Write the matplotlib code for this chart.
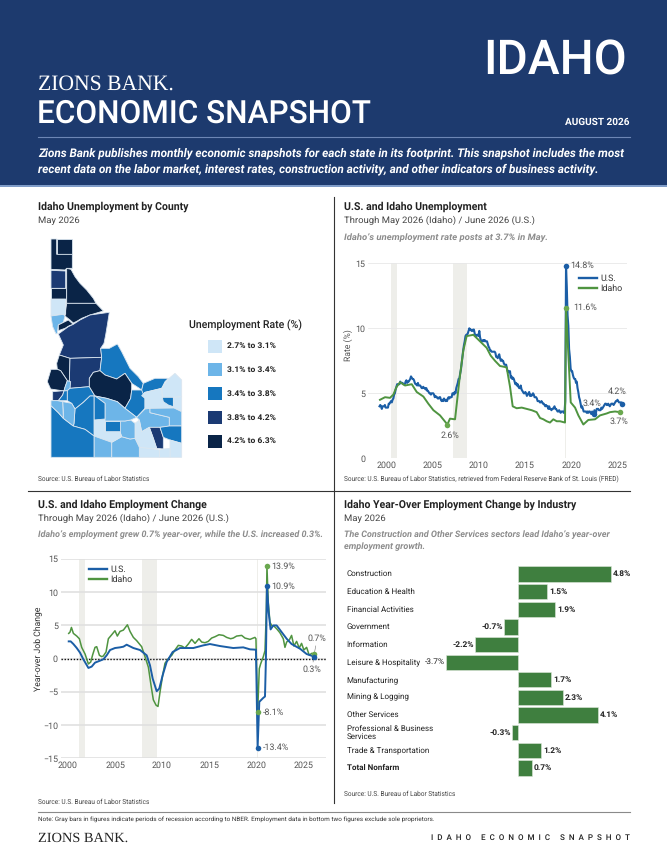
import matplotlib
matplotlib.use("Agg")
import matplotlib.pyplot as plt
from matplotlib.patches import Polygon, Rectangle
from matplotlib.lines import Line2D

W, H = 667, 852
FONT = "Roboto"
plt.rcParams["font.family"] = [FONT, "DejaVu Sans"]
plt.rcParams["text.hinting"] = "no_hinting"

NAVY = "#1d3a6e"
US_BLUE = "#1b5ea6"
ID_GREEN = "#4f9440"
ID_DOT = "#6aa84f"
BAR_GREEN = "#3f7f3f"
GREY = "#555555"

# ─── DATA ────────────────────────────────────────────────────────────────────

map_levels = ["#cfe6f7", "#6db5e8", "#1677bf", "#1b3a73", "#0a2447"]
map_labels = ["2.7% to 3.1%", "3.1% to 3.4%", "3.4% to 3.8%", "3.8% to 4.2%", "4.2% to 6.3%"]

# county outlines: (colour level, vertices)
counties = [
    (4, [(80,12),(127,12),(127,58),(80,58),(80,25)]),
    (4, [(63,12),(80,12),(80,58),(127,58),(127,100),(110,100),(105,105),(63,103)]),
    (3, [(63,106),(107,108),(107,160),(63,160)]),
    (4, [(63,160),(107,160),(107,192),(63,192)]),
    (4, [(110,100),(123,103),(135,125),(150,145),(170,165),(190,190),(198,205),(110,205)]),
    (4, [(110,205),(198,205),(220,228),(180,240),(155,250),(142,258),(130,264),(120,255),(105,243),(107,225)]),
    (0, [(63,192),(107,192),(107,238),(78,240),(63,243)]),
    (1, [(63,243),(100,238),(105,243),(100,262),(85,270),(82,295),(78,297),(68,275)]),
    (4, [(85,270),(115,255),(130,268),(118,272),(105,280),(85,287)]),
    (3, [(85,297),(115,275),(130,268),(150,255),(180,240),(238,232),(232,270),(227,300),(222,325),
         (212,340),(215,367),(120,370),(88,360),(100,330)]),
    (4, [(88,360),(120,370),(118,440),(112,437),(92,407),(82,403),(80,385)]),
    (4, [(63,403),(82,403),(92,407),(112,437),(104,460),(102,468),(62,462),(52,440)]),
    (3, [(120,370),(215,367),(210,407),(190,412),(178,430),(178,455),(120,460),(118,440)]),
    (3, [(68,470),(102,467),(98,480),(85,497),(68,497)]),
    (1, [(112,437),(122,440),(120,460),(112,467),(102,468),(104,460)]),
    (2, [(82,497),(85,497),(98,480),(102,468),(112,467),(112,497)]),
    (2, [(112,467),(120,460),(178,455),(195,483),(180,483),(160,502),(135,522),(125,505),(112,497)]),
    (2, [(212,340),(238,340),(262,327),(275,350),(300,400),(325,425),(340,445),(335,465),(328,460),
         (305,445),(285,415),(260,432),(225,420),(210,407),(215,367)]),
    (4, [(178,430),(190,412),(210,407),(225,420),(260,432),(285,415),(305,445),(305,465),(302,490),
         (285,520),(262,500),(230,490),(195,483),(178,455)]),
    (2, [(340,445),(375,430),(415,430),(405,440),(395,460),(345,472),(335,482),(335,465)]),
    (2, [(305,465),(335,465),(345,490),(345,520),(320,547),(285,520),(302,490)]),
    (0, [(395,460),(415,432),(435,415),(455,435),(455,485),(425,487),(397,487)]),
    (0, [(345,472),(395,460),(397,487),(397,492),(415,510),(432,517),(432,519),(345,522),(345,490),(335,482)]),
    (2, [(397,487),(430,487),(430,515),(415,510),(400,500)]),
    (0, [(430,487),(455,485),(455,530),(432,519)]),
    (1, [(345,522),(360,520),(360,533),(418,547),(418,573),(390,577),(358,577),(335,590),(328,555),(320,547)]),
    (1, [(360,520),(432,519),(455,530),(455,573),(418,573),(418,547),(360,533)]),
    (3, [(358,577),(390,577),(400,607),(400,642),(380,640),(370,610)]),
    (2, [(390,577),(418,573),(455,573),(455,625),(420,615),(400,607)]),
    (0, [(420,615),(455,625),(455,667),(420,667)]),
    (0, [(388,645),(400,642),(420,640),(420,667),(388,667)]),
    (0, [(328,637),(360,640),(388,645),(388,667),(328,667)]),
    (0, [(315,565),(328,555),(335,590),(358,577),(370,610),(380,640),(360,640),(328,637),(315,610)]),
    (1, [(245,622),(275,605),(300,612),(315,610),(328,637),(328,667),(245,667)]),
    (1, [(270,558),(285,558),(302,555),(315,565),(315,610),(300,612),(275,605),(270,590)]),
    (2, [(225,558),(270,558),(270,590),(225,590)]),
    (0, [(192,555),(225,552),(225,590),(270,590),(275,605),(245,622),(192,603)]),
    (1, [(192,603),(245,622),(245,667),(192,667)]),
    (1, [(195,483),(230,490),(262,500),(285,520),(320,547),(302,555),(285,558),(225,558),(225,505)]),
    (2, [(192,483),(195,483),(225,505),(225,552),(192,555)]),
    (2, [(135,522),(160,502),(180,483),(192,483),(192,603),(165,583),(130,573),(132,565)]),
    (2, [(63,512),(85,533),(100,550),(130,573),(165,583),(192,603),(192,667),(63,667)]),
    (1, [(98,500),(125,505),(135,522),(132,565),(130,573),(100,550),(100,535)]),
    (1, [(63,497),(82,497),(98,500),(100,550),(85,533),(63,512)]),
]

us_rate_start = 2000.0
us_rate = [
    4.0, 4.1, 4.0, 3.8, 4.0, 4.0, 4.0, 4.1, 3.9, 3.9, 3.9, 3.9,
    4.2, 4.2, 4.3, 4.4, 4.3, 4.5, 4.6, 4.9, 5.0, 5.3, 5.5, 5.7,
    5.7, 5.7, 5.7, 5.9, 5.8, 5.8, 5.8, 5.7, 5.7, 5.7, 5.9, 6.0,
    5.8, 5.9, 5.9, 6.0, 6.1, 6.3, 6.2, 6.1, 6.1, 6.0, 5.8, 5.7,
    5.7, 5.6, 5.8, 5.6, 5.6, 5.6, 5.5, 5.4, 5.4, 5.5, 5.4, 5.4,
    5.3, 5.4, 5.2, 5.2, 5.1, 5.0, 5.0, 4.9, 5.0, 5.0, 5.0, 4.9,
    4.7, 4.8, 4.7, 4.7, 4.6, 4.6, 4.7, 4.7, 4.5, 4.4, 4.5, 4.4,
    4.6, 4.5, 4.4, 4.5, 4.4, 4.6, 4.7, 4.6, 4.7, 4.7, 4.7, 5.0,
    5.0, 4.9, 5.1, 5.0, 5.4, 5.6, 5.8, 6.1, 6.1, 6.5, 6.8, 7.3,
    7.8, 8.3, 8.7, 9.0, 9.4, 9.5, 9.5, 9.6, 9.8, 10.0, 9.9, 9.9,
    9.8, 9.8, 9.9, 9.9, 9.6, 9.4, 9.4, 9.5, 9.5, 9.4, 9.8, 9.3,
    9.1, 9.0, 9.0, 9.1, 9.0, 9.1, 9.0, 9.0, 9.0, 8.8, 8.6, 8.5,
    8.3, 8.3, 8.2, 8.2, 8.2, 8.2, 8.2, 8.1, 7.8, 7.8, 7.7, 7.9,
    8.0, 7.7, 7.5, 7.6, 7.5, 7.5, 7.3, 7.2, 7.2, 7.2, 6.9, 6.7,
    6.6, 6.7, 6.7, 6.2, 6.3, 6.1, 6.2, 6.1, 5.9, 5.7, 5.8, 5.6,
    5.7, 5.5, 5.4, 5.4, 5.6, 5.3, 5.2, 5.1, 5.0, 5.0, 5.1, 5.0,
    4.8, 4.9, 5.0, 5.1, 4.8, 4.9, 4.8, 4.9, 5.0, 4.9, 4.7, 4.7,
    4.7, 4.6, 4.4, 4.4, 4.4, 4.3, 4.3, 4.4, 4.3, 4.2, 4.2, 4.1,
    4.0, 4.1, 4.0, 4.0, 3.8, 4.0, 3.8, 3.8, 3.7, 3.8, 3.8, 3.9,
    4.0, 3.8, 3.8, 3.7, 3.6, 3.6, 3.7, 3.6, 3.5, 3.6, 3.6, 3.6,
    3.5, 3.5, 4.4, 14.8, 13.2, 11.0, 10.2, 8.4, 7.8, 6.9, 6.7, 6.7,
    6.4, 6.2, 6.1, 6.1, 5.8, 5.9, 5.4, 5.1, 4.7, 4.5, 4.2, 3.9,
    4.0, 3.8, 3.6, 3.6, 3.6, 3.6, 3.5, 3.6, 3.5, 3.6, 3.6, 3.5,
    3.4, 3.6, 3.5, 3.4, 3.7, 3.6, 3.5, 3.8, 3.8, 3.8, 3.7, 3.7,
    3.7, 3.9, 3.8, 3.9, 4.0, 4.1, 4.2, 4.2, 4.1, 4.1, 4.2, 4.1,
    4.0, 4.1, 4.2, 4.2, 4.2, 4.1, 4.2, 4.3, 4.4, 4.4, 4.5, 4.4,
    4.3, 4.3, 4.3, 4.3, 4.2, 4.2,
]
us_rate_years = [us_rate_start + i / 12 for i in range(len(us_rate))]

id_rate_years = [2000.05, 2000.6, 2001.14, 2001.5, 2001.86, 2002.23, 2002.77, 2003.5, 2004.04, 2004.76,
                 2005.3, 2005.85, 2006.57, 2007.37, 2007.65, 2008.2, 2008.67, 2009.1, 2009.46, 2010.19,
                 2010.91, 2011.63, 2012.07, 2012.54, 2013.08, 2013.8, 2014.17, 2014.46, 2014.89, 2015.44,
                 2015.98, 2016.52, 2017.06, 2017.43, 2017.79, 2018.15, 2018.51, 2018.87, 2019.24, 2019.6,
                 2020.14, 2020.25, 2020.5, 2020.76, 2021.23, 2021.59, 2022.13, 2022.67, 2023.4, 2023.94,
                 2024.67, 2025.03, 2025.57, 2026.11]
id_rate = [4.5, 4.7, 4.65, 4.9, 5.5, 5.85, 5.6, 5.7, 5.1, 4.75,
           4.2, 3.7, 3.3, 2.6, 3.05, 3.0, 6.0, 8.3, 9.4, 9.5,
           9.0, 8.5, 7.9, 7.5, 7.1, 7.0, 5.5, 4.0, 3.85, 3.9,
           3.8, 3.7, 3.55, 3.1, 3.0, 2.85, 2.75, 3.0, 2.85, 2.85,
           2.75, 11.6, 8.0, 4.3, 3.9, 3.3, 2.6, 2.95, 3.0, 3.3,
           3.45, 3.55, 3.6, 3.55]

us_job_years = [2000.0, 2000.21, 2000.5, 2000.86, 2001.21, 2001.57, 2002.11, 2002.46, 2002.82, 2003.36,
                2003.71, 2004.07, 2004.43, 2004.96, 2005.5, 2005.86, 2006.21, 2006.93, 2007.64, 2008.36,
                2008.71, 2009.0, 2009.43, 2009.71, 2010.07, 2010.5, 2011.14, 2011.93, 2013.36, 2014.43,
                2015.14, 2016.21, 2017.64, 2018.71, 2019.43, 2020.07, 2020.25, 2020.43, 2020.86, 2021.04,
                2021.14, 2021.25, 2021.43, 2021.64, 2021.93, 2022.29, 2022.82, 2023.36, 2023.89, 2024.79,
                2025.5, 2026.32]
us_job = [2.6, 2.6, 2.2, 1.6, 0.9, -0.1, -1.4, -1.2, -0.6, -0.3,
          -0.1, 0.5, 1.3, 1.6, 1.7, 1.8, 2.1, 1.6, 1.3, 0.5,
          -1.0, -3.0, -4.9, -4.5, -2.5, -0.5, 1.0, 1.6, 1.6, 2.0,
          2.2, 1.9, 1.6, 1.7, 1.4, 1.35, -13.4, -6.5, -5.9, -5.7,
          0.0, 10.9, 7.0, 4.4, 5.0, 5.0, 4.0, 3.0, 2.2, 1.5,
          0.7, 0.3]

id_job_years = [2000.0, 2000.14, 2000.29, 2000.5, 2000.86, 2001.14, 2001.39, 2001.75, 2002.11, 2002.36,
                2002.57, 2002.82, 2003.0, 2003.29, 2003.54, 2003.71, 2004.0, 2004.25, 2004.61, 2004.96,
                2005.21, 2005.5, 2005.86, 2006.29, 2006.57, 2006.93, 2007.29, 2007.82, 2008.18, 2008.54,
                2008.82, 2009.07, 2009.36, 2009.57, 2009.79, 2010.07, 2010.32, 2010.68, 2011.04, 2011.39,
                2011.75, 2012.11, 2012.46, 2012.82, 2013.18, 2013.54, 2013.96, 2014.25, 2014.61, 2014.96,
                2015.32, 2015.68, 2016.11, 2016.57, 2016.93, 2017.36, 2017.64, 2018.0, 2018.54, 2018.89,
                2019.43, 2019.96, 2020.07, 2020.25, 2020.43, 2020.57, 2020.86, 2021.04, 2021.18, 2021.25,
                2021.39, 2021.57, 2021.75, 2022.0, 2022.29, 2022.64, 2023.0, 2023.18, 2023.36, 2023.64,
                2023.89, 2024.14, 2024.43, 2024.71, 2024.96, 2025.21, 2025.5, 2025.79, 2026.04, 2026.32]
id_job = [3.8, 4.0, 4.7, 3.8, 3.4, 3.0, 1.7, 0.7, -0.8, -0.5,
          0.6, 1.7, 1.8, 0.5, 0.3, 0.4, 1.0, 3.0, 3.6, 4.2,
          3.4, 4.1, 4.3, 5.1, 4.1, 3.2, 2.7, 1.8, 0.3, -1.3,
          -4.0, -6.2, -7.0, -7.2, -5.0, -2.5, -0.7, 0.0, 0.5, 1.3,
          2.0, 1.9, 1.6, 2.2, 2.9, 2.3, 3.0, 2.5, 2.4, 2.6,
          3.1, 3.3, 3.6, 3.5, 3.2, 3.0, 3.1, 3.4, 3.5, 3.1,
          2.9, 3.2, 3.0, -8.1, -1.5, -0.8, 0.3, 1.2, 7.0, 13.9,
          8.5, 5.5, 5.0, 4.9, 4.5, 3.9, 3.0, 1.7, 2.5, 2.8,
          3.5, 1.9, 2.6, 1.6, 2.3, 1.3, 1.7, 0.5, 0.8, 0.7]

rate_recessions = [(2001.25, 2001.9), (2008.0, 2009.5), (2020.17, 2020.3)]
job_recessions = [(2001.15, 2001.75), (2007.9, 2009.42), (2020.17, 2020.3)]
year_labels = ["2000", "2005", "2010", "2015", "2020", "2025"]
rate_ticks = [2000.8, 2005.8, 2010.8, 2015.8, 2020.8, 2025.85]
job_ticks = [1999.9, 2005.07, 2010.0, 2015.07, 2020.1, 2025.19]

industries = ["Construction", "Education & Health", "Financial Activities", "Government", "Information",
              "Leisure & Hospitality", "Manufacturing", "Mining & Logging", "Other Services",
              "Professional & Business\nServices", "Trade & Transportation", "Total Nonfarm"]
industry_change = [4.8, 1.5, 1.9, -0.7, -2.2, -3.7, 1.7, 2.3, 4.1, -0.3, 1.2, 0.7]


# ─── HELPERS ─────────────────────────────────────────────────────────────────

fig = plt.figure(figsize=(W / 100, H / 100), dpi=100, facecolor="white")

page = fig.add_axes([0, 0, 1, 1])
page.set_xlim(0, W)
page.set_ylim(H, 0)
page.axis("off")


def txt(x, y, s, size, color="#222222", weight="normal", style="normal", ha="left", family=None):
    return page.text(x, y, s, fontsize=size, color=color, fontweight=weight, fontstyle=style,
                     ha=ha, va="center", family=family or FONT)


def px_axes(left, top, right, bottom):
    return fig.add_axes([left / W, 1 - bottom / H, (right - left) / W, (bottom - top) / H],
                        facecolor="none")


def line_panel(ax, recessions, grid_lw, grid_col, ticks):
    for a, b in recessions:
        ax.axvspan(a, b, color="#eeeeea", lw=0, zorder=0)
    ax.grid(axis="y", color=grid_col, lw=grid_lw, zorder=0)
    ax.set_axisbelow(True)
    for s in ax.spines.values():
        s.set_visible(False)
    ax.tick_params(length=0, labelsize=6.4, labelcolor=GREY, pad=2)
    ax.set_xticks(ticks, year_labels)


def note(ax, s, x, y, dx, dy, ha="left", leader=False):
    arrow = dict(arrowstyle="-", lw=0.4, color="#777777", shrinkA=0, shrinkB=0) if leader else None
    ax.annotate(s, (x, y), xytext=(dx, dy), textcoords="offset points", fontsize=6.4,
                color=GREY, ha=ha, va="center", arrowprops=arrow)


# ─── HEADER ──────────────────────────────────────────────────────────────────

page.add_patch(Rectangle((0, 0), W, 185, color=NAVY, lw=0))
page.add_patch(Rectangle((0, 185), W, 1.5, color="#7f9cc8", lw=0))
page.plot([38, 630], [137, 137], color="#6d86b5", lw=0.8)
txt(627, 61, "IDAHO", 34.5, "white", "medium", ha="right")
txt(38, 84, "ZIONS BANK.", 15.6, "white", family="Liberation Serif")
txt(37, 114, "ECONOMIC SNAPSHOT", 22.7, "white", "medium")
txt(629, 122.5, "AUGUST 2026", 7.2, "white", "bold", ha="right")
txt(38, 153, "Zions Bank publishes monthly economic snapshots for each state in its footprint. "
             "This snapshot includes the most", 8.5, "white", "bold", "italic")
txt(38, 169, "recent data on the labor market, interest rates, construction activity, and other "
             "indicators of business activity.", 8.45, "white", "bold", "italic")

# dividers
page.plot([28, 630], [491, 491], color="#333333", lw=0.8)
page.plot([333.5, 333.5], [197, 803], color="#333333", lw=0.8)
page.plot([38, 630], [812, 812], color="#8a8a8a", lw=0.8)

# ─── PANEL TEXT ──────────────────────────────────────────────────────────────

txt(38, 207, "Idaho Unemployment by County", 7.6, weight="bold")
txt(38, 220.5, "May 2026", 6.8, "#444444")
txt(38, 479, "Source: U.S. Bureau of Labor Statistics", 4.7, "#444444")

txt(344, 207, "U.S. and Idaho Unemployment", 7.6, weight="bold")
txt(344, 220.5, "Through May 2026 (Idaho) / June 2026 (U.S.)", 6.8, "#444444")
txt(344, 237.5, "Idaho’s unemployment rate posts at 3.7% in May.", 6.8, "#8c8c8c", "bold", "italic")
txt(344, 479, "Source: U.S. Bureau of Labor Statistics, retrieved from Federal Reserve Bank of St. Louis (FRED)",
    4.7, "#444444")

txt(38, 505, "U.S. and Idaho Employment Change", 7.6, weight="bold")
txt(38, 518.5, "Through May 2026 (Idaho) / June 2026 (U.S.)", 6.8, "#444444")
txt(38, 535, "Idaho’s employment grew 0.7% year-over, while the U.S. increased 0.3%.", 6.5,
    "#8c8c8c", "bold", "italic")
txt(38, 802, "Source: U.S. Bureau of Labor Statistics", 4.7, "#444444")

txt(344, 505, "Idaho Year-Over Employment Change by Industry", 7.6, weight="bold")
txt(344, 518.5, "May 2026", 6.8, "#444444")
txt(344, 535, "The Construction and Other Services sectors lead Idaho’s year-over", 6.5,
    "#8c8c8c", "bold", "italic")
txt(344, 547, "employment growth.", 6.5, "#8c8c8c", "bold", "italic")
txt(344, 794, "Source: U.S. Bureau of Labor Statistics", 4.7, "#444444")

txt(38, 819.5, "Note: Gray bars in figures indicate periods of recession according to NBER. "
               "Employment data in bottom two figures exclude sole proprietors.", 4.6, "#333333")
txt(38, 838, "ZIONS BANK.", 10.4, "#222222", family="Liberation Serif")
txt(630, 838, "I  D  A  H  O     E  C  O  N  O  M  I  C     S  N  A  P  S  H  O  T", 5.8, "#222222",
    "medium", ha="right")

# ─── MAP ─────────────────────────────────────────────────────────────────────

ax_map = px_axes(30, 235, 190, 465)
ax_map.set_xlim(0, 480)
ax_map.set_ylim(690, 0)
ax_map.axis("off")
for level, verts in counties:
    ax_map.add_patch(Polygon(verts, closed=True, facecolor=map_levels[level],
                             edgecolor="#dbe6f0", lw=0.6))

txt(189, 325, "Unemployment Rate (%)", 7.6, "#222222", "medium")
for i, lab in enumerate(map_labels):
    yc = 346 + i * 23.75
    page.add_patch(Rectangle((208, yc - 6.5), 14, 13, color=map_levels[i], lw=0))
    txt(227, yc, lab, 6.1, "#222222", "bold")

# ─── UNEMPLOYMENT LINES ──────────────────────────────────────────────────────

ax1 = px_axes(368, 263.3, 627, 458.3)
ax1.set_xlim(1998.75, 2026.87)
ax1.set_ylim(0, 15)
ax1.set_yticks([0, 5, 10, 15])
line_panel(ax1, rate_recessions, 0.6, "#e8e8e8", rate_ticks)
ax1.set_ylabel("Rate (%)", fontsize=6.2, color=GREY)
ax1.yaxis.set_label_coords(-0.059, 0.58)
ax1.plot(us_rate_years, us_rate, color=US_BLUE, lw=1.5, zorder=3)
ax1.plot(id_rate_years, id_rate, color=ID_GREEN, lw=1.4, zorder=4)
for yr, val, col in [(2020.25, 14.8, US_BLUE), (2020.25, 11.6, ID_DOT), (2007.37, 2.6, ID_DOT),
                     (2023.25, 3.4, US_BLUE), (2026.37, 4.2, US_BLUE), (2026.11, 3.55, ID_DOT)]:
    ax1.plot(yr, val, "o", ms=4, color=col, mec="none", zorder=5)
note(ax1, "14.8%", 2020.25, 14.8, 3, 0)
note(ax1, "11.6%", 2020.25, 11.6, 5, 0)
note(ax1, "2.6%", 2007.37, 2.6, 2, -8, "center")
note(ax1, "3.4%", 2023.25, 3.4, -1, 8, "center")
note(ax1, "4.2%", 2026.0, 4.2, -1, 9, "center")
note(ax1, "3.7%", 2026.1, 3.55, -1, -7, "center")
ax1.legend(handles=[Line2D([], [], color=US_BLUE, lw=1.7, label="U.S."),
                    Line2D([], [], color=ID_GREEN, lw=1.7, label="Idaho")],
           loc="upper left", bbox_to_anchor=(0.815, 0.945), frameon=False, fontsize=6.4,
           labelcolor="#333333", handlelength=2.0, handletextpad=0.4, labelspacing=0.15,
           borderpad=0, borderaxespad=0)

# ─── JOB CHANGE LINES ────────────────────────────────────────────────────────

ax2 = px_axes(60.7, 559, 326, 758.3)
ax2.set_xlim(1999.14, 2027.58)
ax2.set_ylim(-15, 15)
ax2.set_yticks([-15, -10, -5, 0, 5, 10, 15])
line_panel(ax2, job_recessions, 1.2, "#e0e0e0", job_ticks)
ax2.set_ylabel("Year-over Job Change", fontsize=6.2, color="#333333")
ax2.yaxis.set_label_coords(-0.067, 0.548)
ax2.axhline(0, color="#111111", lw=1.0, ls=(0, (1, 1.2)), zorder=2)
ax2.plot(id_job_years, id_job, color=ID_GREEN, lw=1.1, zorder=3)
ax2.plot(us_job_years, us_job, color=US_BLUE, lw=1.4, zorder=4)
for yr, val, col in [(2021.25, 13.9, ID_DOT), (2021.25, 10.9, US_BLUE), (2020.25, -8.1, ID_DOT),
                     (2020.25, -13.4, US_BLUE), (2026.32, 0.7, ID_DOT), (2026.32, 0.3, US_BLUE)]:
    ax2.plot(yr, val, "o", ms=4, color=col, mec="none", zorder=5)
note(ax2, "13.9%", 2021.25, 13.9, 3, 0)
note(ax2, "10.9%", 2021.25, 10.9, 3, 0)
note(ax2, "-8.1%", 2020.25, -8.1, 4, 0)
note(ax2, "-13.4%", 2020.25, -13.4, 4, 0)
note(ax2, "0.7%", 2026.32, 0.7, 2, 11, "center", leader=True)
note(ax2, "0.3%", 2026.32, 0.3, -2, -9, "center", leader=True)
ax2.legend(handles=[Line2D([], [], color=US_BLUE, lw=1.7, label="U.S."),
                    Line2D([], [], color=ID_GREEN, lw=1.7, label="Idaho")],
           loc="upper left", bbox_to_anchor=(0.108, 0.97), frameon=False, fontsize=6.4,
           labelcolor="#333333", handlelength=2.0, handletextpad=0.4, labelspacing=0.15,
           borderpad=0, borderaxespad=0)

# ─── INDUSTRY BARS ───────────────────────────────────────────────────────────

ax3 = px_axes(344, 565, 630, 777)
ax3.set_xlim((344 - 518) / 19.4, (630 - 518) / 19.4)
ax3.set_ylim(11.51, -0.51)
ax3.axis("off")
positions = list(range(len(industries)))
ax3.barh(positions, industry_change, height=0.87, color=BAR_GREEN, edgecolor="#dfe8dc", lw=0.4)
for i, (name, val) in enumerate(zip(industries, industry_change)):
    bold = name == "Total Nonfarm"
    ax3.annotate(name, (0, i), xycoords=("axes fraction", "data"), xytext=(2, 0),
                 textcoords="offset points", fontsize=5.8, color="#222222", va="center",
                 fontweight="bold" if bold else "normal", linespacing=0.95)
    ax3.annotate(f"{val}%", (val, i), xytext=(1.5 if val > 0 else -1, 0), textcoords="offset points",
                 fontsize=6.0, color="#222222", va="center", ha="left" if val > 0 else "right",
                 fontweight="bold" if bold or val != -3.7 else "normal")

fig.savefig("out.png", dpi=100)
